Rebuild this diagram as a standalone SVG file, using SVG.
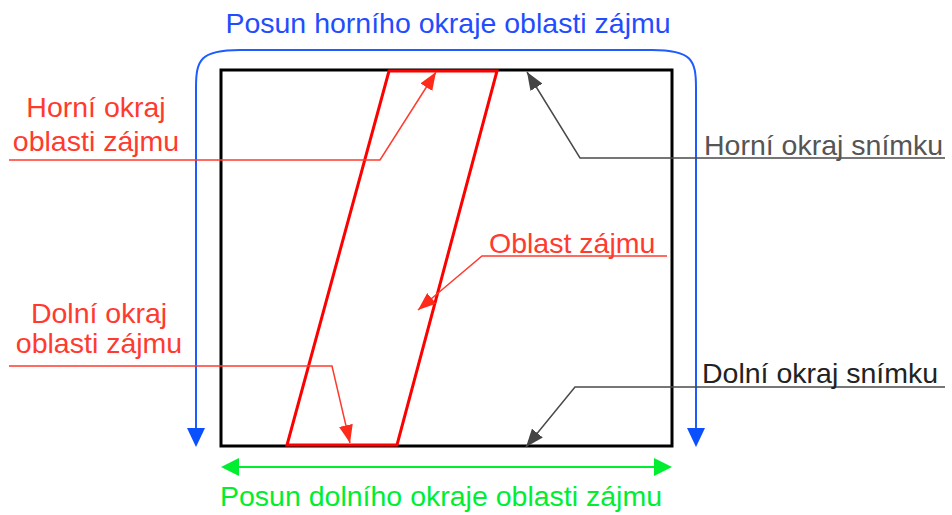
<svg xmlns="http://www.w3.org/2000/svg" width="952" height="515" viewBox="0 0 952 515">
<defs>
<style>
text{font-family:"Liberation Sans",Arial,sans-serif;font-size:28.5px}
.red{fill:#ff3a2e}
.lr{stroke:#ff3a2e;stroke-width:1.5;fill:none}
.lg{stroke:#4a4a4a;stroke-width:1.5;fill:none}
</style>
<marker id="ar" viewBox="0 0 18 14" refX="18" refY="7" markerWidth="18" markerHeight="14" markerUnits="userSpaceOnUse" orient="auto"><path d="M0,0L18,7L0,14z" fill="#ff2a1a"/></marker>
<marker id="ag" viewBox="0 0 18 14" refX="18" refY="7" markerWidth="18" markerHeight="14" markerUnits="userSpaceOnUse" orient="auto"><path d="M0,0L18,7L0,14z" fill="#444"/></marker>
</defs>
<rect width="952" height="515" fill="#fff"/>
<g id="frame"><rect x="221" y="70" width="451" height="376" fill="none" stroke="#000" stroke-width="3"/></g>
<g id="roi"><polygon points="389,71 497,71 397,445 287,445" fill="none" stroke="#ff0000" stroke-width="3" stroke-linejoin="miter"/></g>
<g id="connectors">
<path d="M196,430 L196,88 C196,60 200,50 240,50 L652,50 C692,50 696,60 696,88 L696,430" fill="none" stroke="#1f5cff" stroke-width="2"/>
<polygon points="187,428 205,428 196,447" fill="#0a50ff"/>
<polygon points="687,428 705,428 696,447" fill="#0a50ff"/>
<line x1="238" y1="467" x2="655" y2="467" stroke="#00ee30" stroke-width="2"/>
<polygon points="221,467 239,458 239,476" fill="#00ee30"/>
<polygon points="672,467 654,458 654,476" fill="#00ee30"/>
<path class="lr" d="M9,160 L380,160 L436,72" marker-end="url(#ar)"/>
<path class="lr" d="M9,366 L332,366 L350,443" marker-end="url(#ar)"/>
<path class="lr" d="M667,256 L482,256 L418,310" marker-end="url(#ar)"/>
<path class="lg" d="M945,158 L580,158 L527,72" marker-end="url(#ag)"/>
<path class="lg" d="M945,387 L575,387 L526,447" marker-end="url(#ag)"/>
</g>
<g id="label-top-shift"><text x="448" y="33" text-anchor="middle" fill="#1f4dff">Posun horního okraje oblasti zájmu</text></g>
<g id="label-bottom-shift"><text x="441" y="506" text-anchor="middle" fill="#00ee30">Posun dolního okraje oblasti zájmu</text></g>
<g id="label-top-roi"><text class="red" x="96" y="117" text-anchor="middle">Horní okraj</text><text class="red" x="96" y="151" text-anchor="middle">oblasti zájmu</text></g>
<g id="label-bottom-roi"><text class="red" x="99" y="323" text-anchor="middle">Dolní okraj</text><text class="red" x="99" y="353" text-anchor="middle">oblasti zájmu</text></g>
<g id="label-roi"><text class="red" x="489" y="253">Oblast zájmu</text></g>
<g id="label-top-frame"><text x="704" y="155" fill="#555">Horní okraj snímku</text></g>
<g id="label-bottom-frame"><text x="702" y="383" fill="#222">Dolní okraj snímku</text></g>
</svg>
